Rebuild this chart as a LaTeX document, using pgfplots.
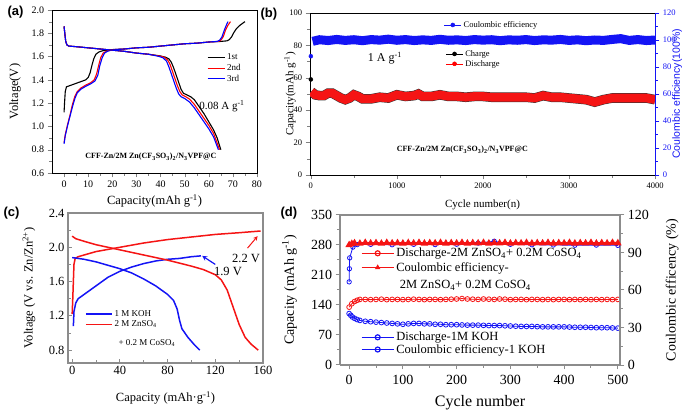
\documentclass[border=0pt]{standalone}
\usepackage{fontspec}
\setmainfont{Liberation Serif}
\newfontfamily\labfont{Liberation Sans}
\usepackage{pgfplots}
\pgfplotsset{compat=1.18}
\usepackage{pgfplotstable}
\definecolor{cblue}{RGB}{20,20,245}
\definecolor{cred}{RGB}{245,20,20}
\definecolor{fgray}{RGB}{140,140,140}
\newcommand{\fs}[1]{\fontsize{#1}{#1}\selectfont}

% ---------- panel (b) data ----------
\pgfplotstableread{
x y
20 99.0
100 100.2
200 99.6
300 100.4
400 99.7
500 100.2
600 99.5
700 100.3
800 99.9
900 100.6
1000 99.8
1100 100.3
1200 99.6
1300 100.1
1400 99.7
1500 100.5
1600 99.8
1700 100.1
1800 99.6
1900 100.3
2000 99.9
2100 100.2
2200 99.5
2300 100.1
2400 99.8
2500 100.3
2600 99.6
2700 100.1
2800 99.9
2900 100.4
3000 99.7
3100 100.1
3200 99.5
3300 100.0
3400 99.7
3500 100.4
3600 101.0
3700 99.7
3800 100.3
3900 99.6
4000 100.0
}\ceb
\pgfplotstableread{
x y
5 51.5
50 49.5
100 49
150 49
200 50.5
250 50.5
300 49
350 47.5
400 46.5
450 47.5
500 49.5
550 48.5
600 47
700 47
800 48
900 47.5
1000 49.5
1100 48.5
1200 49
1250 50
1300 48.5
1400 48.5
1500 49.5
1600 48.5
1700 48.5
1800 48
1900 48.5
2000 48.5
2100 48
2200 48
2300 48
2400 48
2500 48
2600 47.5
2700 49
2800 48
2900 48
3000 47.5
3100 47
3200 46.5
3300 45
3400 46.5
3500 47.5
3600 47.5
3700 47.5
3800 47.5
3900 47.5
4000 46.5
}\disb

% ---------- panel (d) data ----------
\pgfplotstableread{
x y
0 135
5 143
10 148
15 151
20 153
30 153
40 152.5
50 153
60 153.5
70 152.5
80 153
90 153
100 152.5
110 153
120 153.5
130 153
140 152.5
150 153
160 153
170 152.5
180 153
190 153.5
200 154
210 155
220 154
230 153.5
240 153
250 154
260 153.5
270 153
280 154
290 153.5
300 152.5
310 153
320 153
330 152.5
340 153
350 153
360 152.5
370 153
380 152.5
390 153
400 153
410 152.5
420 153
430 152.5
440 153
450 152.5
460 153
470 152.5
480 153
490 152.5
500 153
}\redd
\pgfplotstableread{
x y
0 120
3 116
6 112
10 109
15 106
20 104
30 102
40 101
50 100
60 99
70 98
80 97
90 96
100 95
110 96
120 97
130 97
140 96
150 96
160 95
170 95
180 94
190 94
200 94
210 93.5
220 93
230 93
240 93
250 92.5
260 92
270 92
280 92
290 91.5
300 91
310 90.5
320 90
330 90
340 90
350 89.5
360 89
370 89
380 89
390 89
400 89
410 88.5
420 88
430 88
440 88
450 87.5
460 87
470 87
480 87
490 86.5
500 86
}\blued
\pgfplotstableread{
x y
0 96
5 97
10 97.5
20 97.2
30 97.8
40 97.4
50 97.6
60 97.2
70 97.8
80 97.4
90 97.6
100 97.3
110 97.7
120 97.4
130 97.8
140 97.3
150 97.6
160 97.4
170 97.8
180 97.3
190 97.6
200 97.4
210 97.8
220 97.3
230 97.6
240 97.4
250 97.8
260 97.3
270 97.6
280 97.4
290 97.8
300 97.3
310 97.6
320 97.4
330 97.8
340 97.3
350 97.6
360 97.4
370 97.8
380 97.3
390 97.6
400 97.4
410 97.8
420 97.3
430 97.6
440 97.4
450 97.8
460 97.3
470 97.6
480 97.4
490 97.8
500 97.5
}\redce
\pgfplotstableread{
x y
0 66.5
0.5 77
1 85.7
7 94.3
15 96.3
40 96.5
80 96.2
120 96.5
160 96.3
200 96.6
240 97.5
270 99.0
300 96.5
340 96.2
380 96.0
420 95.8
460 95.9
500 95.7
}\bluece

\begin{document}
\begin{tikzpicture}
\path[use as bounding box] (0pt,0pt) rectangle (685pt,415pt);

% ================= (a) =================
\begin{axis}[at={(52pt,405pt)}, anchor=north west, scale only axis,
  width=205pt, height=163pt,
  xmin=-5, xmax=80, ymin=0.6, ymax=2.0,
  xtick={0,10,...,80}, ytick={0.6,0.8,...,2.0},
  minor x tick num=1, minor y tick num=1,
  tick align=outside, xtick pos=bottom, ytick pos=left,
  /pgf/number format/assume math mode=true,
  yticklabel style={/pgf/number format/.cd,fixed,fixed zerofill,precision=1},
  ticklabel style={font=\fs{10}},
  xlabel={Capacity(mAh g\textsuperscript{-1})},
  ylabel={Voltage(V)},
  label style={font=\fs{12.5}},
  xlabel style={yshift=0pt},
  ylabel style={at={(axis description cs:-0.18,0.5)}, anchor=center},
  legend style={draw=none, fill=none, at={(0.755,0.745)}, anchor=north west,
    font=\fs{9}, row sep=-1pt, inner sep=0pt},
  legend cell align=left,
  every axis plot/.append style={line width=1.1pt},
]
\addplot[black] coordinates {(0,1.12)(0.2,1.2)(0.5,1.3)(1,1.34)(3,1.355)(5,1.37)(7,1.385)(9,1.40)(10,1.42)(10.8,1.46)(11.5,1.52)(12.3,1.58)(13.2,1.62)(14.5,1.64)(16,1.65)(18,1.655)(20,1.66)(25,1.665)(30,1.675)(35,1.68)(40,1.69)(45,1.70)(50,1.71)(55,1.715)(60,1.725)(65,1.73)(67.5,1.735)(68.5,1.745)(69.5,1.77)(70.5,1.81)(71.5,1.84)(73,1.87)(75,1.90)};
\addlegendentry{1st}
\addplot[red] coordinates {(0,0.86)(0.5,0.93)(1.5,1.02)(2.5,1.10)(3.5,1.19)(4.5,1.26)(5.5,1.30)(7,1.33)(9,1.355)(11,1.375)(12.5,1.40)(13.5,1.45)(14.3,1.52)(15.2,1.59)(16.2,1.63)(17.5,1.645)(19,1.655)(21,1.66)(25,1.665)(30,1.675)(35,1.68)(40,1.69)(45,1.70)(50,1.71)(55,1.715)(60,1.725)(64,1.73)(65,1.74)(66,1.77)(67,1.83)(68,1.87)(69,1.90)};
\addlegendentry{2nd}
\addplot[blue] coordinates {(0,0.85)(0.5,0.92)(1.5,1.01)(2.5,1.09)(3.5,1.17)(4.5,1.24)(5.5,1.29)(7,1.32)(9,1.345)(11,1.365)(12.8,1.39)(14,1.44)(14.8,1.52)(15.8,1.59)(16.8,1.63)(18,1.645)(19.5,1.655)(21,1.66)(25,1.665)(30,1.675)(35,1.68)(40,1.69)(45,1.70)(50,1.71)(55,1.715)(60,1.725)(63.5,1.73)(64.5,1.74)(65.5,1.77)(66.5,1.83)(67.5,1.88)(68,1.90)};
\addlegendentry{3rd}
\addplot[black, forget plot] coordinates {(0,1.86)(0.3,1.80)(0.7,1.73)(1.2,1.70)(2,1.69)(5,1.685)(10,1.675)(15,1.665)(20,1.655)(25,1.645)(30,1.63)(35,1.62)(40,1.605)(42,1.595)(43.5,1.58)(44.5,1.55)(45.5,1.50)(46.5,1.44)(47.5,1.38)(48.5,1.32)(49.5,1.285)(51,1.27)(52.5,1.255)(54,1.23)(56,1.17)(58,1.11)(60,1.04)(62,0.97)(63.5,0.90)(65,0.80)};
\addplot[red, forget plot] coordinates {(0,1.86)(0.3,1.80)(0.7,1.73)(1.2,1.70)(2,1.69)(5,1.685)(10,1.675)(15,1.665)(20,1.655)(25,1.645)(30,1.63)(35,1.62)(40,1.603)(41.5,1.595)(43,1.57)(44,1.53)(45,1.47)(46,1.41)(47,1.35)(48,1.30)(49,1.27)(50.5,1.255)(52,1.235)(54,1.19)(56,1.13)(58,1.07)(60,1.01)(62,0.94)(64.5,0.80)};
\addplot[blue, forget plot] coordinates {(0,1.86)(0.3,1.80)(0.7,1.73)(1.2,1.70)(2,1.69)(5,1.685)(10,1.675)(15,1.665)(20,1.655)(25,1.645)(30,1.63)(35,1.62)(39,1.603)(41,1.59)(42.5,1.56)(43.5,1.51)(44.5,1.45)(45.5,1.39)(46.5,1.33)(47.5,1.28)(48.5,1.255)(50,1.24)(52,1.21)(54,1.16)(56,1.10)(58,1.04)(60,0.98)(62,0.91)(64,0.80)};
\node[font=\fs{11}] at (axis cs:65.5,1.17) {0.08 A g\textsuperscript{-1}};
\node[font=\bfseries\fs{8}] at (axis cs:36,0.737) {CFF-Zn/2M Zn(CF\textsubscript{3}SO\textsubscript{3})\textsubscript{2}/N\textsubscript{3}VPF@C};
\end{axis}

% ================= (b) =================
\begin{axis}[at={(310pt,402pt)}, anchor=north west, scale only axis,
  width=345pt, height=162pt,
  xmin=-10, xmax=4000, ymin=0, ymax=100,
  axis y line*=left,
  xtick={0,1000,...,4000}, ytick={0,20,...,100},
  minor x tick num=1, minor y tick num=1,
  tick align=outside, xtick pos=bottom,
  /pgf/number format/assume math mode=true,
  xticklabel style={/pgf/number format/1000 sep={}},
  ticklabel style={font=\fs{8.5}},
  xlabel={Cycle number(n)},
  ylabel={Capacity(mAh g\textsuperscript{-1})},
  label style={font=\fs{11}},
  xlabel style={yshift=-4pt},
  ylabel style={at={(axis description cs:-0.058,0.5)}, anchor=center},
  legend style={draw=none, fill=none, at={(0.39,0.79)}, anchor=north west,
    font=\fs{8.5}, row sep=-1.5pt, inner sep=1pt},
  legend cell align=left,
]
\addlegendimage{black, line width=0.5pt, mark=*, mark size=2pt}
\addlegendentry{Charge}
\addlegendimage{red, line width=0.5pt, mark=*, mark size=2pt}
\addlegendentry{Discharge}
\addplot[black!80, line width=9.6pt, forget plot] table[x=x,y=y] {\disb};
\addplot[cred, line width=8.6pt, forget plot] table[x=x,y=y] {\disb};
\addplot[black, only marks, mark=*, mark size=2pt, forget plot] coordinates {(0,59)};
\node[font=\fs{12}] at (axis cs:860,72) {1 A g\textsuperscript{-1}};
\node[font=\bfseries\fs{8}] at (axis cs:1760,15.4) {CFF-Zn/2M Zn(CF\textsubscript{3}SO\textsubscript{3})\textsubscript{2}/N\textsubscript{3}VPF@C};
\end{axis}
\begin{axis}[at={(310pt,402pt)}, anchor=north west, scale only axis,
  width=345pt, height=162pt,
  xmin=-10, xmax=4000, ymin=0, ymax=120,
  axis y line*=right, axis x line=none,
  ytick={0,20,...,120}, minor y tick num=1,
  tick align=outside,
  y axis line style={cblue},
  ytick style={cblue},
  /pgf/number format/assume math mode=true,
  yticklabel style={font=\fs{8.5}, text=cblue},
  ylabel={\labfont Coulombic efficiency(100\%)},
  ylabel style={font=\fs{10.5}, text=cblue, at={(axis description cs:1.064,0.5)}, anchor=center},
  legend style={draw=none, fill=none, at={(0.385,0.926)}, anchor=west,
    font=\fs{8.5}, inner sep=1pt},
]
\addlegendimage{cblue, line width=0.5pt, mark=*, mark size=2pt}
\addlegendentry{Coulombic efficiency}
\addplot[cblue, line width=9pt, forget plot] table[x=x,y=y] {\ceb};
\addplot[cblue, only marks, mark=*, mark size=2pt, forget plot] coordinates {(0,88)};
\end{axis}

% ================= (c) =================
\begin{axis}[at={(68pt,202pt)}, anchor=north west, scale only axis,
  width=195pt, height=150pt,
  xmin=-3.5, xmax=160, ymin=0.65, ymax=2.4,
  xtick={0,40,...,160}, ytick={0.8,1.2,...,2.4},
  minor x tick num=1, minor y tick num=1,
  axis line style={fgray, line width=1.6pt},
  tick style={fgray, line width=1pt},
  xtick pos=bottom, ytick pos=left,
  /pgf/number format/assume math mode=true,
  yticklabel style={/pgf/number format/.cd,fixed,fixed zerofill,precision=1},
  ticklabel style={font=\fs{12.5}},
  xlabel={Capacity (mAh·g\textsuperscript{-1})},
  ylabel={Voltage (V vs. Zn/Zn\textsuperscript{2+})},
  label style={font=\fs{12.5}},
  xlabel style={yshift=-10pt},
  ylabel style={at={(axis description cs:-0.2,0.5)}, anchor=center},
  legend style={draw=none, fill=none, at={(0.087,0.365)}, anchor=north west,
    font=\fs{9}, row sep=-1pt, inner sep=0pt},
  legend cell align=left,
  legend image code/.code={\draw[#1] (0pt,0pt) -- (26pt,0pt);},
]
\addlegendimage{cblue, line width=1.5pt}
\addlegendentry{1 M KOH}
\addlegendimage{cred, line width=1.5pt}
\addlegendentry{2 M ZnSO\textsubscript{4}}
\addplot[cblue, line width=1.5pt, forget plot] coordinates {(1,1.08)(1.5,1.25)(3,1.35)(5,1.40)(10,1.45)(20,1.55)(30,1.65)(40,1.72)(50,1.77)(60,1.81)(70,1.84)(80,1.86)(90,1.87)(100,1.89)(108,1.90)};
\addplot[cred, line width=1.5pt, forget plot] coordinates {(0,1.22)(0.5,1.4)(1,1.6)(1.5,1.8)(2.5,1.87)(5,1.89)(20,1.95)(40,2.00)(60,2.05)(80,2.09)(100,2.12)(120,2.15)(140,2.17)(158,2.19)};
\addplot[cblue, line width=1.5pt, forget plot] coordinates {(0,1.88)(10,1.86)(20,1.83)(30,1.79)(40,1.75)(50,1.70)(60,1.63)(70,1.55)(80,1.45)(85,1.38)(88,1.28)(90,1.15)(92,1.05)(97,0.95)(102,0.87)(107,0.80)};
\addplot[cred, line width=1.5pt, forget plot] coordinates {(0,2.13)(3,2.10)(10,2.07)(20,2.03)(40,1.97)(60,1.91)(80,1.85)(100,1.78)(110,1.74)(120,1.68)(125,1.62)(130,1.50)(135,1.30)(140,1.10)(145,0.95)(150,0.87)(156,0.80)};
\node[font=\fs{9}, anchor=west] at (axis cs:36,0.88) {+ 0.2 M CoSO\textsubscript{4}};
\node[font=\fs{12.5}, anchor=center] at (rel axis cs:0.913,0.70) {2.2 V};
\node[font=\fs{12.5}, anchor=center] at (rel axis cs:0.82,0.607) {1.9 V};
\draw[cred, -stealth, line width=1pt] (axis cs:147,1.99) -- (axis cs:155.5,2.13);
\draw[cblue, -stealth, line width=1.2pt] (axis cs:120,1.80) -- (axis cs:109,1.9);
\end{axis}

% ================= (d) =================
\begin{axis}[at={(340pt,200pt)}, anchor=north west, scale only axis,
  width=280pt, height=150pt,
  xmin=-17, xmax=504, ymin=0, ymax=350,
  axis y line*=left,
  xtick={0,100,...,500}, ytick={0,70,...,350},
  minor x tick num=1, minor y tick num=1,
  axis line style={fgray, line width=1.6pt},
  tick style={fgray, line width=1pt},
  tick align=outside, xtick pos=bottom,
  /pgf/number format/assume math mode=true,
  ticklabel style={font=\fs{14}},
  xticklabel style={yshift=-2pt},
  xlabel={Cycle number},
  ylabel={Capacity (mAh g\textsuperscript{-1})},
  xlabel style={font=\fs{16}, yshift=-4pt},
  ylabel style={font=\fs{14}, at={(axis description cs:-0.18,0.5)}, anchor=center},
  legend style={draw=none, fill=none, at={(0.071,0.80)}, anchor=north west,
    font=\fs{12.5}, row sep=0pt, inner sep=1pt},
  legend cell align=left,
  legend image code/.code={\draw[#1] (0pt,0pt) -- (32pt,0pt); \draw[#1, mark repeat=1] plot coordinates {(16pt,0pt)};},
]
\addlegendimage{cred, line width=1.2pt, mark=o, mark size=2.5pt}
\addlegendentry{Discharge-2M ZnSO\textsubscript{4}+ 0.2M CoSO\textsubscript{4}}
\addlegendimage{cred, line width=1.2pt, mark=triangle*, mark size=2pt}
\addlegendentry{Coulombic efficiency-}
\addplot[cred, line width=0.8pt, mark=o, mark size=2.4pt, forget plot] table[x=x,y=y] {\redd};
\addplot[cblue, line width=0.8pt, mark=o, mark size=2.4pt, forget plot] table[x=x,y=y] {\blued};
\node[font=\fs{12.5}, anchor=west] at (axis cs:88,186) {2M ZnSO\textsubscript{4}+ 0.2M CoSO\textsubscript{4}};
\end{axis}
\begin{axis}[at={(340pt,200pt)}, anchor=north west, scale only axis,
  width=280pt, height=150pt,
  xmin=-17, xmax=504, ymin=0, ymax=120,
  axis y line*=right, axis x line=none,
  ytick={0,30,...,120}, minor y tick num=1,
  axis line style={fgray, line width=1.6pt},
  tick style={fgray, line width=1pt},
  tick align=outside,
  /pgf/number format/assume math mode=true,
  yticklabel style={font=\fs{14}},
  ylabel={Coulombic efficency (\%)},
  ylabel style={font=\fs{14}, at={(axis description cs:1.186,0.5)}, anchor=center},
  legend style={draw=none, fill=none, at={(0.071,0.24)}, anchor=north west,
    font=\fs{12.5}, row sep=-2pt, inner sep=1pt},
  legend cell align=left,
  legend image code/.code={\draw[#1] (0pt,0pt) -- (32pt,0pt); \draw[#1, mark repeat=1] plot coordinates {(16pt,0pt)};},
]
\addlegendimage{cblue, line width=1.2pt, mark=o, mark size=2.5pt}
\addlegendentry{Discharge-1M KOH}
\addlegendimage{cblue, line width=1.2pt, mark=o, mark size=2.5pt}
\addlegendentry{Coulombic efficiency-1 KOH}
\addplot[cblue, line width=0.8pt, mark=o, mark size=2.2pt, forget plot] table[x=x,y=y] {\bluece};
\addplot[cred, line width=2pt, mark=triangle*, mark size=2.4pt, forget plot] table[x=x,y=y] {\redce};
\end{axis}

% panel labels
\node[font=\labfont\bfseries\fs{13}, anchor=west] at (4pt,403pt) {(a)};
\node[font=\labfont\bfseries\fs{13}, anchor=west] at (257pt,401pt) {(b)};
\node[font=\labfont\bfseries\fs{13}, anchor=west] at (0pt,202pt) {(c)};
\node[font=\labfont\bfseries\fs{13}, anchor=west] at (277pt,202pt) {(d)};
\end{tikzpicture}
\end{document}
